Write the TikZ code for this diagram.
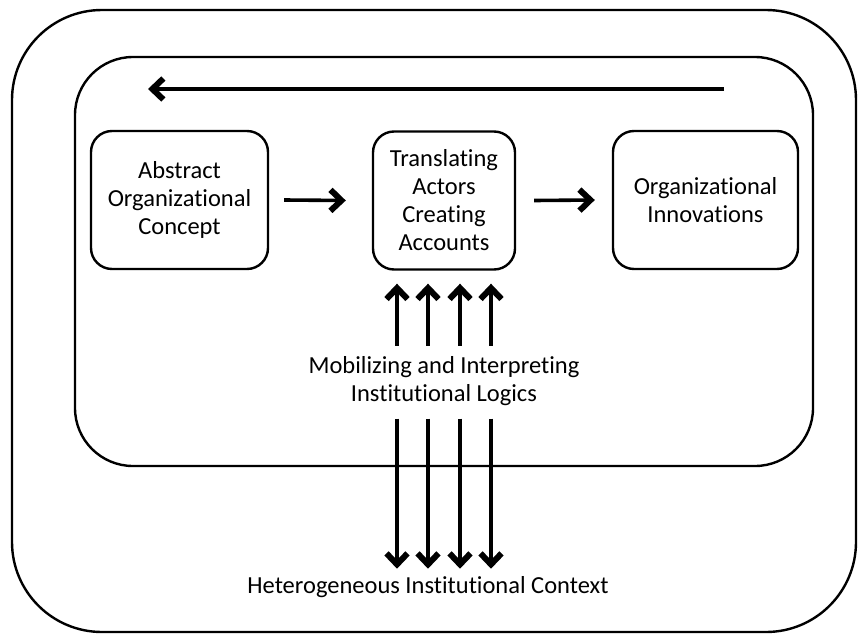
\documentclass[tikz,border=0pt]{standalone}
\usepackage{fontspec}
\setmainfont{Carlito}[Ligatures=NoCommon]
\usetikzlibrary{arrows.meta,calc}
\begin{document}
\begin{tikzpicture}[x=1pt, y=-1pt,
  box/.style={draw, line width=2.4pt, rounded corners=21pt, align=center,
    minimum height=138pt, inner sep=0pt},
  lbl/.style={align=center, inner sep=0pt},
  flow/.style={line width=3.6pt, -{Straight Barb[length=11pt,width=21pt,line width=6pt 0]}},
  every node/.style={font=\fontsize{24.5}{28}\selectfont}]
\useasboundingbox (0,0) rectangle (859,637);
% frames
\draw[line width=2.4pt, rounded corners=90pt] (12,10) rectangle (856,632);
\draw[line width=2.4pt, rounded corners=58pt] (75,57) rectangle (813,466);
% boxes
\node[box, minimum width=177pt] (abs) at (179.5,200) {Abstract\\Organizational\\Concept};
\node[box, minimum width=142pt] (trans) at (444,200.5) {Translating\\Actors\\Creating\\Accounts};
\node[box, minimum width=185pt] (innov) at (705.5,200) {Organizational\\Innovations};
\node[lbl] (mobil) at (444,381) {Mobilizing and Interpreting\\Institutional Logics};
\node[lbl] (ctx) at (428,587) {Heterogeneous Institutional Context};
% feedback loop
\coordinate (loopR) at (724,89);
\coordinate (loopL) at (148,89);
\draw[flow] (loopR) -- (loopL);
% main chain
\draw[flow] ([xshift=15pt]abs.east) -- ([xshift=-26pt]trans.west);
\draw[flow] ([xshift=18pt]trans.east) -- ([xshift=-17pt]innov.west);
% logics
\foreach \dx in {-47,-16,16,47} {
  \draw[flow] ($(trans.south)+(\dx,75)$) -- ($(trans.south)+(\dx,13)$);
  \draw[flow] ($(trans.south)+(\dx,148)$) -- ($(trans.south)+(\dx,298)$);
}
\end{tikzpicture}
\end{document}
